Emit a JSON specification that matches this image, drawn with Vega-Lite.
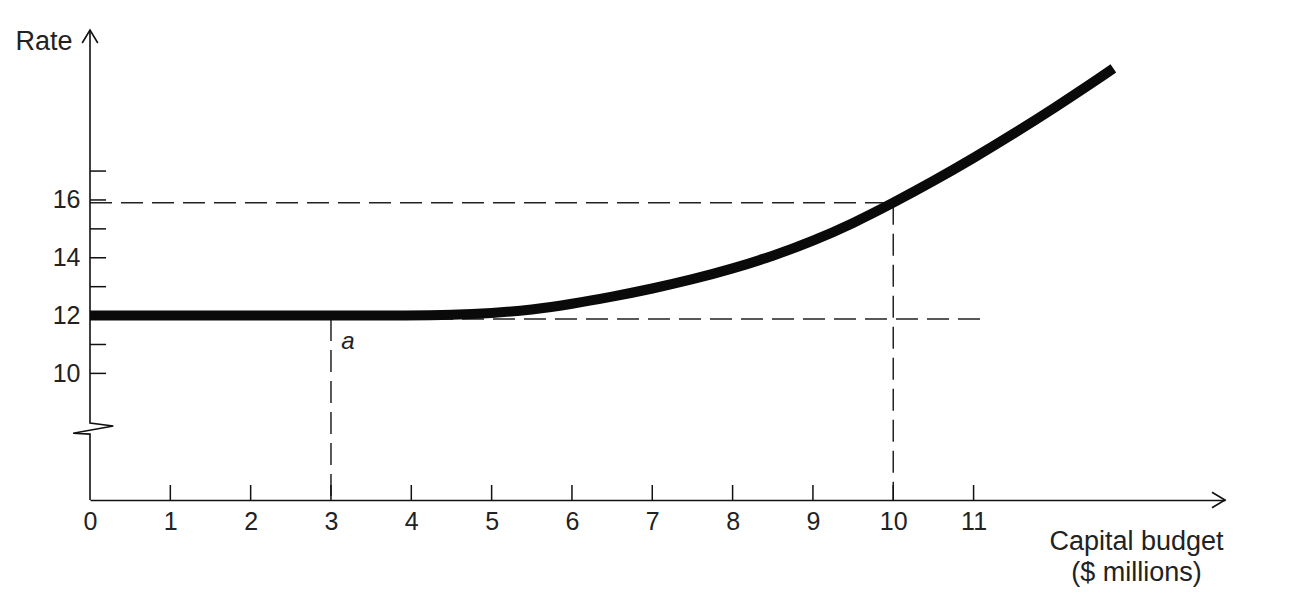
{
  "$schema": "https://vega.github.io/schema/vega-lite/v6.json",
  "width": 1135,
  "height": 470,
  "autosize": {"type": "none"},
  "padding": {"left": 90, "top": 30, "right": 74, "bottom": 114},
  "background": "white",
  "config": {"view": {"stroke": null}, "font": "Liberation Sans"},
  "datasets": {
    "curve": [
      {"x": 0, "y": 12}, {"x": 1, "y": 12}, {"x": 2, "y": 12}, {"x": 3, "y": 12}, {"x": 4, "y": 12},
      {"x": 4.5, "y": 12.02}, {"x": 5, "y": 12.08}, {"x": 5.5, "y": 12.2}, {"x": 6, "y": 12.4},
      {"x": 6.5, "y": 12.65}, {"x": 7, "y": 12.93}, {"x": 7.5, "y": 13.25}, {"x": 8, "y": 13.62},
      {"x": 8.5, "y": 14.06}, {"x": 9, "y": 14.58}, {"x": 9.5, "y": 15.19}, {"x": 10, "y": 15.9},
      {"x": 10.5, "y": 16.65}, {"x": 11, "y": 17.45}, {"x": 11.5, "y": 18.29}, {"x": 12, "y": 19.17},
      {"x": 12.5, "y": 20.09}, {"x": 12.74, "y": 20.55}
    ],
    "guides": [
      {"x": 0, "x2": 10, "y": 15.9, "y2": 15.9},
      {"x": 10, "x2": 10, "y": 15.9, "y2": 5.62},
      {"x": 0, "x2": 11.1, "y": 11.88, "y2": 11.88},
      {"x": 3, "x2": 3, "y": 11.88, "y2": 5.62}
    ],
    "yaxis": [
      {"i": 1, "x": 0, "y": 5.62},
      {"i": 2, "x": 0, "y": 7.9},
      {"i": 3, "x": -0.21, "y": 7.93},
      {"i": 4, "x": 0.29, "y": 8.18},
      {"i": 5, "x": 0, "y": 8.28},
      {"i": 6, "x": 0, "y": 21.88}
    ],
    "yticks": [
      {"x": 0, "x2": 0.2, "y": 10}, {"x": 0, "x2": 0.2, "y": 11}, {"x": 0, "x2": 0.2, "y": 12},
      {"x": 0, "x2": 0.2, "y": 13}, {"x": 0, "x2": 0.2, "y": 14}, {"x": 0, "x2": 0.2, "y": 15},
      {"x": 0, "x2": 0.2, "y": 16}, {"x": 0, "x2": 0.2, "y": 17}
    ],
    "xticks": [
      {"x": 1, "y": 5.62, "y2": 6.14}, {"x": 2, "y": 5.62, "y2": 6.14}, {"x": 3, "y": 5.62, "y2": 6.14},
      {"x": 4, "y": 5.62, "y2": 6.14}, {"x": 5, "y": 5.62, "y2": 6.14}, {"x": 6, "y": 5.62, "y2": 6.14},
      {"x": 7, "y": 5.62, "y2": 6.14}, {"x": 8, "y": 5.62, "y2": 6.14}, {"x": 9, "y": 5.62, "y2": 6.14},
      {"x": 10, "y": 5.62, "y2": 6.14}, {"x": 11, "y": 5.62, "y2": 6.14}
    ]
  },
  "encoding": {
    "x": {
      "field": "x", "type": "quantitative",
      "scale": {"domain": [0, 14.13], "nice": false, "zero": false},
      "axis": {
        "values": [0, 1, 2, 3, 4, 5, 6, 7, 8, 9, 10, 11], "format": "d",
        "ticks": false, "tickSize": 0, "grid": false,
        "domain": true, "domainColor": "#111", "domainWidth": 1.6,
        "labelFontSize": 25, "labelColor": "#222", "labelPadding": 9,
        "labelFlush": false, "labelOverlap": false,
        "title": ["Capital budget", "($ millions)"],
        "titleFontSize": 27, "titleFontWeight": "normal", "titleColor": "#222",
        "titleX": 1046, "titleY": 49, "titleAlign": "center", "titleBaseline": "alphabetic",
        "titleLineHeight": 31
      }
    },
    "y": {
      "field": "y", "type": "quantitative",
      "scale": {"domain": [5.62, 21.88], "nice": false, "zero": false},
      "axis": {
        "values": [10, 12, 14, 16], "format": "d",
        "ticks": false, "tickSize": 0, "grid": false, "domain": false,
        "labelFontSize": 25, "labelColor": "#222", "labelPadding": 10,
        "labelFlush": false, "labelOverlap": false,
        "title": "Rate", "titleAngle": 0, "titleAlign": "right", "titleBaseline": "alphabetic",
        "titleX": -18, "titleY": 19, "titleFontSize": 27, "titleFontWeight": "normal", "titleColor": "#222"
      }
    }
  },
  "layer": [
    {
      "data": {"name": "guides"},
      "mark": {"type": "rule", "strokeDash": [22, 9], "strokeWidth": 1.5, "color": "#222"},
      "encoding": {"x2": {"field": "x2"}, "y2": {"field": "y2"}}
    },
    {
      "data": {"name": "yaxis"},
      "mark": {"type": "line", "color": "#111", "strokeWidth": 1.6, "interpolate": "linear"},
      "encoding": {"order": {"field": "i", "type": "quantitative"}}
    },
    {
      "data": {"name": "yticks"},
      "mark": {"type": "rule", "color": "#111", "strokeWidth": 1.5},
      "encoding": {"x2": {"field": "x2"}}
    },
    {
      "data": {"name": "xticks"},
      "mark": {"type": "rule", "color": "#111", "strokeWidth": 1.5},
      "encoding": {"y2": {"field": "y2"}}
    },
    {
      "data": {"name": "curve"},
      "mark": {"type": "line", "color": "#0a0a0a", "strokeWidth": 10, "interpolate": "basis", "strokeCap": "butt"},
      "encoding": {}
    },
    {
      "data": {"values": [{"x": 0, "y": 21.88}]},
      "mark": {"type": "point", "shape": "M-0.6,1L0,0L0.6,1", "size": 676, "filled": false, "color": "#111", "strokeWidth": 1.6, "opacity": 1},
      "encoding": {}
    },
    {
      "data": {"values": [{"x": 14.13, "y": 5.62}]},
      "mark": {"type": "point", "shape": "M-1,-0.6L0,0L-1,0.6", "size": 676, "filled": false, "color": "#111", "strokeWidth": 1.6, "opacity": 1},
      "encoding": {}
    },
    {
      "data": {"values": [{"x": 3, "y": 12, "label": "a"}]},
      "mark": {"type": "text", "fontStyle": "italic", "fontSize": 24, "color": "#222", "dx": 17, "dy": 26, "align": "center", "baseline": "middle"},
      "encoding": {"text": {"field": "label"}}
    }
  ]
}
